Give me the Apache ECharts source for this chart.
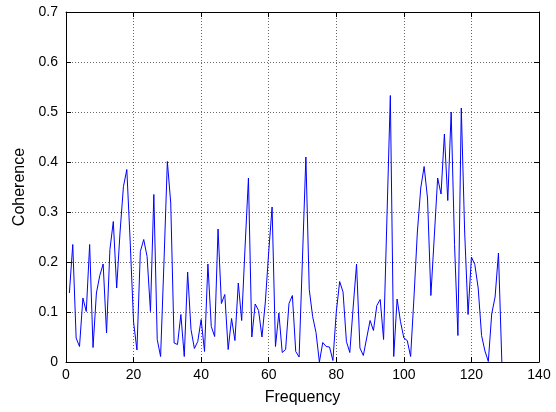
<!DOCTYPE html>
<html>
<head>
<meta charset="utf-8">
<script src="https://cdn.jsdelivr.net/npm/echarts@6/dist/echarts.min.js"></script>
<style>
html,body{margin:0;padding:0;background:#fff;}
#c{width:556px;height:412px;}
</style>
</head>
<body>
<div id="c"></div>
<script>
// Frequency bins 1..129 (MATLAB index)
var frequencies = [];
for (var i = 1; i <= 129; i++) frequencies.push(i);

var coherence = [
  0.138, 0.235, 0.048, 0.031, 0.128, 0.101, 0.235, 0.029, 0.138, 0.173,
  0.196, 0.058, 0.225, 0.281, 0.148, 0.260, 0.351, 0.385, 0.240, 0.080,
  0.024, 0.221, 0.245, 0.211, 0.101, 0.335, 0.045, 0.011, 0.200, 0.401,
  0.318, 0.038, 0.035, 0.095, 0.011, 0.180, 0.065, 0.027, 0.041, 0.085,
  0.021, 0.196, 0.071, 0.051, 0.266, 0.117, 0.135, 0.025, 0.087, 0.043,
  0.158, 0.083, 0.230, 0.368, 0.050, 0.116, 0.103, 0.050, 0.120, 0.220,
  0.310, 0.031, 0.098, 0.019, 0.025, 0.117, 0.133, 0.021, 0.010, 0.210,
  0.410, 0.145, 0.091, 0.059, 0.000, 0.039, 0.031, 0.030, 0.003, 0.100,
  0.161, 0.140, 0.041, 0.019, 0.110, 0.196, 0.028, 0.013, 0.048, 0.083,
  0.063, 0.113, 0.125, 0.045, 0.290, 0.533, 0.011, 0.126, 0.081, 0.048,
  0.043, 0.011, 0.130, 0.260, 0.348, 0.391, 0.328, 0.133, 0.250, 0.368,
  0.336, 0.456, 0.323, 0.500, 0.235, 0.053, 0.508, 0.260, 0.095, 0.210,
  0.195, 0.148, 0.053, 0.022, 0.001, 0.096, 0.130, 0.218, 0.000
];

var xTicks = [0, 20, 40, 60, 80, 100, 120, 140];
var yTicks = [0, 0.1, 0.2, 0.3, 0.4, 0.5, 0.6, 0.7];

var data = frequencies.map(function (f, i) { return [f, coherence[i]]; });

var FONT = "'Liberation Sans', Arial, sans-serif";
var gridLine = { show: true, lineStyle: { color: '#6a6a6a', type: [1, 2], width: 1 } };
var axisLineStyle = { show: true, onZero: false, lineStyle: { color: '#000', width: 1 } };
var tickStyle = { show: true, inside: true, length: 5, lineStyle: { color: '#000' } };

var chart = echarts.init(document.getElementById('c'), null, { renderer: 'canvas' });
chart.setOption({
  backgroundColor: '#fff',
  animation: false,
  grid: { left: 66, right: 17, top: 12, bottom: 50, containLabel: false },
  xAxis: [
    {
      type: 'value', min: xTicks[0], max: xTicks[xTicks.length - 1], interval: 20,
      position: 'bottom',
      name: 'Frequency', nameLocation: 'middle', nameGap: 28,
      nameTextStyle: { fontFamily: FONT, fontSize: 16, color: '#000' },
      axisLine: axisLineStyle, axisTick: tickStyle,
      axisLabel: { fontFamily: FONT, fontSize: 14, color: '#000', margin: 6 },
      splitLine: gridLine
    },
    {
      type: 'value', min: xTicks[0], max: xTicks[xTicks.length - 1], interval: 20,
      position: 'top',
      axisLine: axisLineStyle, axisTick: tickStyle,
      axisLabel: { show: false }, splitLine: { show: false }
    }
  ],
  yAxis: [
    {
      type: 'value', min: yTicks[0], max: yTicks[yTicks.length - 1], interval: 0.1,
      position: 'left',
      name: 'Coherence', nameLocation: 'middle', nameGap: 38,
      nameTextStyle: { fontFamily: FONT, fontSize: 16, color: '#000' },
      axisLine: axisLineStyle, axisTick: tickStyle,
      axisLabel: { fontFamily: FONT, fontSize: 14, color: '#000', margin: 8,
        formatter: function (v) { return String(Math.round(v * 10) / 10); } },
      splitLine: gridLine
    },
    {
      type: 'value', min: yTicks[0], max: yTicks[yTicks.length - 1], interval: 0.1,
      position: 'right',
      axisLine: axisLineStyle, axisTick: tickStyle,
      axisLabel: { show: false }, splitLine: { show: false }
    }
  ],
  series: [
    {
      type: 'line', data: data, xAxisIndex: 0, yAxisIndex: 0,
      showSymbol: false, symbol: 'none',
      lineStyle: { color: '#0000ff', width: 1 },
      clip: true
    }
  ]
});
</script>
</body>
</html>
